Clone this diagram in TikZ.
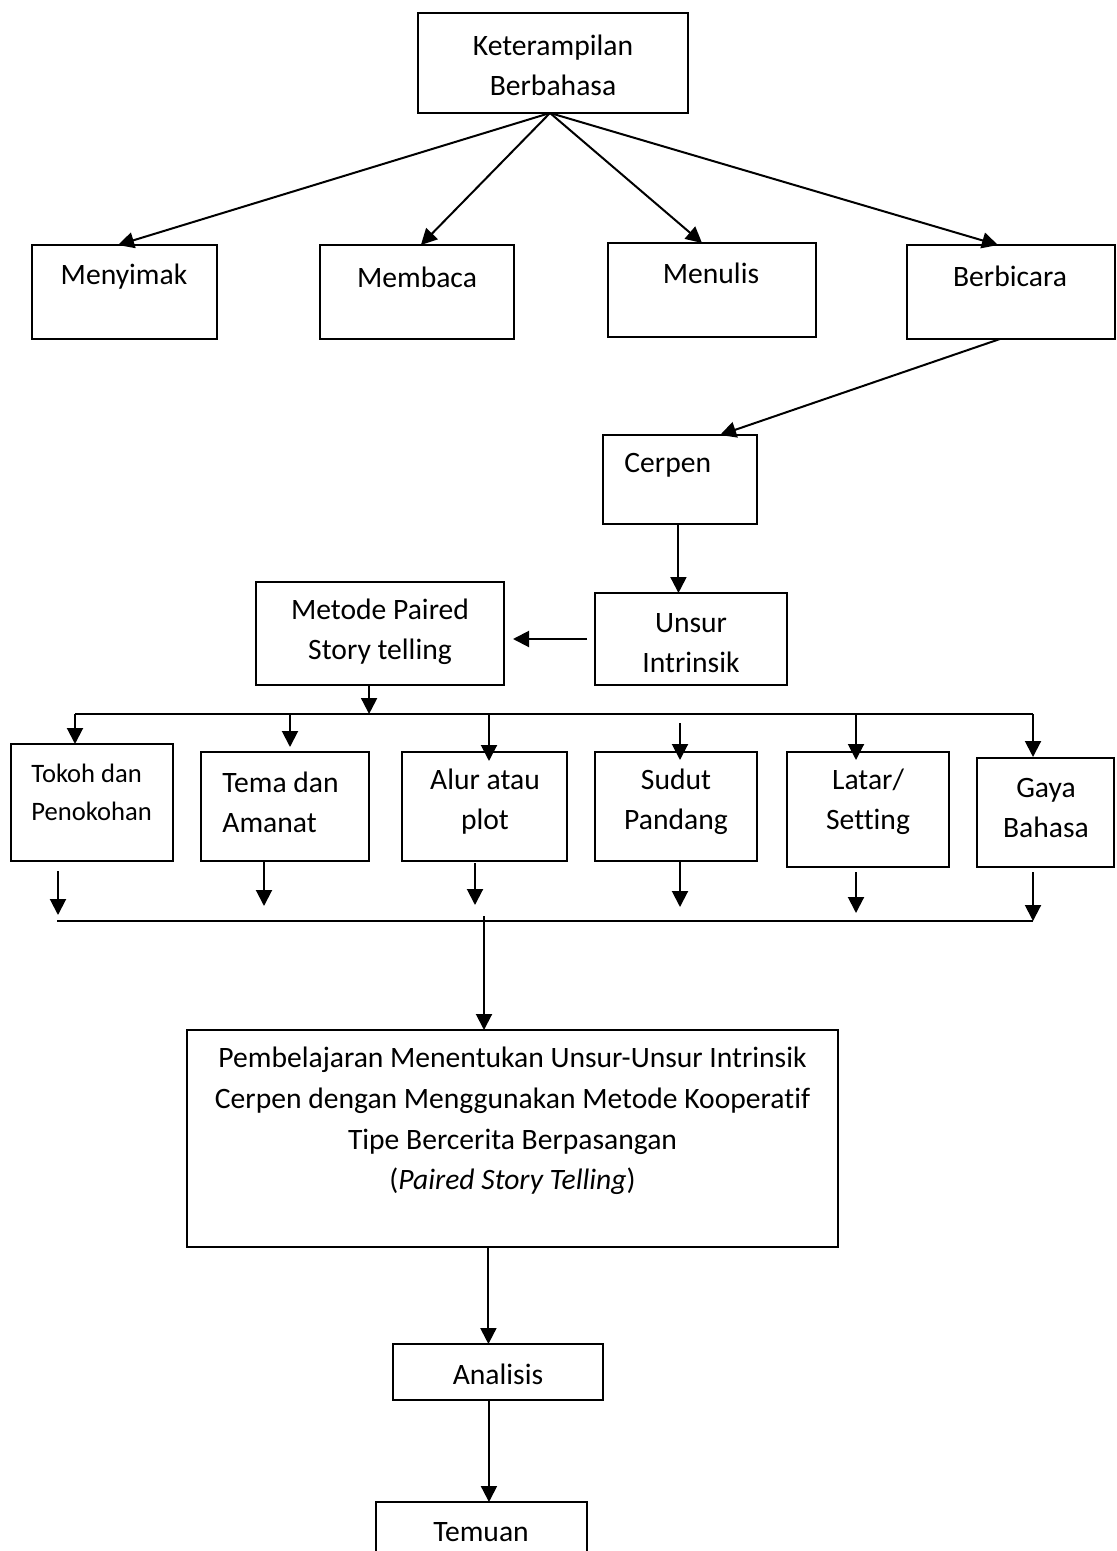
\documentclass[tikz,border=0pt]{standalone}
\usepackage{fontspec}
\setmainfont[Ligatures=NoCommon]{Carlito}
\usetikzlibrary{arrows.meta,fit,calc}
\begin{document}
\begin{tikzpicture}[x=0.5pt,y=-0.5pt,
  bx/.style={draw, line width=1pt, inner sep=0pt, outer sep=0pt},
  txt/.style={inner sep=0pt, align=center, font=\fontsize{14.8}{20}\selectfont},
  txts/.style={inner sep=0pt, align=left, font=\fontsize{13.3}{19}\selectfont},
  ln/.style={line width=1pt},
  arr/.style={ln, -{Triangle[width=8pt,length=8pt]}}]
\useasboundingbox (0,0) rectangle (1117,1551);
\clip (0,0) rectangle (1117,1551);

% boxes
\node[bx, fit={(418,13) (688,113)}] (top) {};
\node[bx, fit={(32,245) (217,339)}] (menyimak) {};
\node[bx, fit={(320,245) (514,339)}] (membaca) {};
\node[bx, fit={(608,243) (816,337)}] (menulis) {};
\node[bx, fit={(907,245) (1115,339)}] (berbicara) {};
\node[bx, fit={(603,435) (757,524)}] (cerpen) {};
\node[bx, fit={(595,593) (787,685)}] (unsur) {};
\node[bx, fit={(256,582) (504,685)}] (metode) {};
\node[bx, fit={(11,744) (173,861)}] (tokoh) {};
\node[bx, fit={(201,752) (369,861)}] (tema) {};
\node[bx, fit={(402,752) (567,861)}] (alur) {};
\node[bx, fit={(595,752) (757,861)}] (sudut) {};
\node[bx, fit={(787,752) (949,867)}] (latar) {};
\node[bx, fit={(977,758) (1114,867)}] (gaya) {};
\node[bx, fit={(187,1030) (838,1247)}] (big) {};
\node[bx, fit={(393,1344) (603,1400)}] (analisis) {};
\node[bx, fit={(376,1502) (587,1620)}] (temuan) {};

% texts
\node[txt] (topT) at (553,65) {Keterampilan\\Berbahasa};
\node[txt] (menyimakT) at (124,277) {Menyimak};
\node[txt] (membacaT) at (417,277) {Membaca};
\node[txt] (menulisT) at (711,273) {Menulis};
\node[txt] (berbicaraT) at (1010,276) {Berbicara};
\node[txt, anchor=west] (cerpenT) at (624,465) {Cerpen};
\node[txt] (unsurT) at (691,643) {Unsur\\Intrinsik};
\node[txt] (metodeT) at (380,632) {Metode Paired\\Story telling};
\node[txts, anchor=west] (tokohT) at (31,792) {Tokoh dan\\Penokohan};
\node[txt, align=left, anchor=west] (temaT) at (222,802) {Tema dan\\Amanat};
\node[txt] (alurT) at (485,802) {Alur atau\\plot};
\node[txt] (sudutT) at (676,802) {Sudut\\Pandang};
\node[txt] (latarT) at (868,802) {Latar/\\Setting};
\node[txt] (gayaT) at (1046,808) {Gaya\\Bahasa};
\node[txt, font=\fontsize{14.8}{20.3}\selectfont] (bigT) at (512.5,1121)
  {Pembelajaran Menentukan Unsur-Unsur Intrinsik\\Cerpen dengan Menggunakan Metode Kooperatif\\Tipe Bercerita Berpasangan\\(\textit{Paired Story Telling})};
\node[txt] (analisisT) at (498,1374) {Analisis};
\node[txt] (temuanT) at (481,1532) {Temuan};

% top fan-out
\coordinate (apex) at (550,113);
\draw[arr] (apex) -- ($(menyimak.north west)!0.465!(menyimak.north east)$);
\draw[arr] (apex) -- ($(membaca.north west)!0.52!(membaca.north east)$);
\draw[arr] (apex) -- ($(menulis.north west)!0.452!(menulis.north east)$);
\draw[arr] (apex) -- ($(berbicara.north west)!0.4375!(berbicara.north east)$);

% berbicara -> cerpen -> unsur -> metode
\draw[arr] ($(berbicara.south west)!0.447!(berbicara.south east)$) -- ($(cerpen.north west)!0.76!(cerpen.north east)$);
\coordinate (cs) at ($(cerpen.south west)!0.49!(cerpen.south east)$);
\draw[arr] (cs) -- (cs |- unsur.north);
\draw[arr] ($(unsur.west)+(-8,0)$) -- ($(metode.east |- unsur.west)+(9,0)$);

% upper bus
\coordinate (busL) at (75,714);
\coordinate (busR) at (1033,714);
\coordinate (ms) at ($(metode.south west)!0.456!(metode.south east)$);
\draw[arr] (ms) -- (ms |- busL);
\draw[ln] (busL) -- (busR);
\draw[arr] (busL) -- (busL |- tokoh.north);
\coordinate (d2a) at (290,714); \coordinate (d2b) at (290,747);
\draw[arr] (d2a) -- (d2b);
\coordinate (d3a) at (489,714); \coordinate (d3b) at (489,761);
\draw[arr] (d3a) -- (d3b);
\coordinate (d4a) at (680,723); \coordinate (d4b) at (680,760);
\draw[arr] (d4a) -- (d4b);
\coordinate (d5a) at (856,714); \coordinate (d5b) at (856,760);
\draw[arr] (d5a) -- (d5b);
\coordinate (d6b) at (1033,757);
\draw[arr] (busR) -- (d6b);

% lower arrows and bus
\coordinate (e1a) at (58,871); \coordinate (e1b) at (58,915);
\draw[arr] (e1a) -- (e1b);
\coordinate (e2a) at (264,861); \coordinate (e2b) at (264,906);
\draw[arr] (e2a) -- (e2b);
\coordinate (e3a) at (475,863); \coordinate (e3b) at (475,905);
\draw[arr] (e3a) -- (e3b);
\coordinate (e4a) at (680,861); \coordinate (e4b) at (680,907);
\draw[arr] (e4a) -- (e4b);
\coordinate (e5a) at (856,872); \coordinate (e5b) at (856,913);
\draw[arr] (e5a) -- (e5b);
\coordinate (e6a) at (1033,872); \coordinate (e6b) at (1033,921);
\draw[arr] (e6a) -- (e6b);
\coordinate (lbusL) at (57,921);
\draw[ln] (lbusL) -- (e6b);

% down to the end
\coordinate (lb) at (484,916);
\draw[arr] (lb) -- (lb |- big.north);
\coordinate (bs) at ($(big.south west)!0.463!(big.south east)$);
\draw[arr] (bs) -- (bs |- analisis.north);
\coordinate (as) at ($(analisis.south west)!0.457!(analisis.south east)$);
\draw[arr] (as) -- (as |- temuan.north);
\end{tikzpicture}
\end{document}
